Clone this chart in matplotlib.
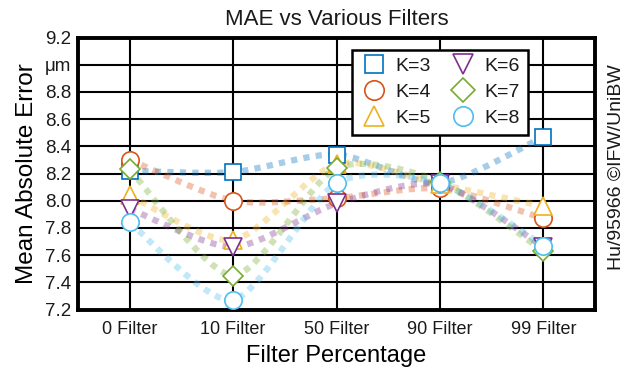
import numpy as np
import matplotlib
matplotlib.use("Agg")
import matplotlib.pyplot as plt
from matplotlib.path import Path
from matplotlib.patches import PathPatch
from matplotlib.lines import Line2D

plt.rcParams['font.family'] = ['Liberation Sans', 'DejaVu Sans']
plt.rcParams['text.color'] = '#1a1a1a'
plt.rcParams['xtick.color'] = '#1a1a1a'
plt.rcParams['ytick.color'] = '#1a1a1a'

# data
categories = ['0 Filter', '10 Filter', '50 Filter', '90 Filter', '99 Filter']
series_names = ['K=3', 'K=4', 'K=5', 'K=6', 'K=7', 'K=8']
k3 = [8.22, 8.21, 8.34, 8.13, 8.47]
k4 = [8.30, 8.00, 8.02, 8.09, 7.87]
k5 = [8.04, 7.71, 8.27, 8.12, 7.96]
k6 = [7.94, 7.66, 7.98, 8.12, 7.66]
k7 = [8.23, 7.45, 8.24, 8.14, 7.63]
k8 = [7.84, 7.27, 8.13, 8.13, 7.67]
yticks = [7.2, 7.4, 7.6, 7.8, 8.0, 8.2, 8.4, 8.6, 8.8, 9.0, 9.2]
ytick_labels = ['7.2', '7.4', '7.6', '7.8', '8.0', '8.2', '8.4', '8.6', '8.8', 'μm', '9.2']

series = [k3, k4, k5, k6, k7, k8]
colors = ['#0072BD', '#D95319', '#EDB120', '#7E2F8E', '#77AC30', '#4DBEEE']
markers = ['s', 'o', '^', 'v', 'D', 'o']
msizes = [11.5, 12.5, 13.5, 13.5, 10.5, 12.5]


def smooth_path(xs, ys, k=8.0):
    # catmull-rom style curve through the points, as bezier segments
    pts = np.column_stack([xs, ys]).astype(float)
    n = len(pts)
    verts = [pts[0]]
    codes = [Path.MOVETO]
    for i in range(n - 1):
        p0 = pts[max(i - 1, 0)]
        p1 = pts[i]
        p2 = pts[i + 1]
        p3 = pts[min(i + 2, n - 1)]
        c1 = p1 + (p2 - p0) / k
        c2 = p2 - (p3 - p1) / k
        verts += [c1, c2, p2]
        codes += [Path.CURVE4] * 3
    return Path(verts, codes)


fig = plt.figure(figsize=(6.25, 3.72), dpi=100)
ax = fig.add_axes([0.125, 0.168, 0.827, 0.731])

x = np.arange(len(categories))

# pale dotted smoothed lines first
for ys, c in zip(series, colors):
    patch = PathPatch(smooth_path(x, ys), fill=False, edgecolor=c, alpha=0.35,
                      lw=4.5, linestyle=(0, (1, 1)), capstyle='butt', zorder=3)
    ax.add_patch(patch)

# open markers on top
for ys, c, m, ms in zip(series, colors, markers, msizes):
    ax.plot(x, ys, linestyle='none', marker=m, ms=ms, mfc='white', mec=c, mew=1.2, zorder=4)

ax.set_xlim(-0.5, 4.5)
ax.set_ylim(7.2, 9.2)
ax.set_xticks(x)
ax.set_xticklabels(categories, fontsize=13)
ax.set_yticks(yticks)
ax.set_yticklabels(ytick_labels, fontsize=13.5)
ax.tick_params(axis='x', length=0, pad=8)
ax.tick_params(axis='y', length=0, pad=5)
ax.grid(True, color='black', lw=1.5, zorder=1)
ax.set_axisbelow(True)
for s in ax.spines.values():
    s.set_linewidth(2.8)

ax.set_title('MAE vs Various Filters', fontsize=16, pad=9)
ax.set_xlabel('Filter Percentage', fontsize=17, labelpad=5)
ax.set_ylabel('Mean Absolute Error', fontsize=17.5, labelpad=5)

handles = [Line2D([], [], linestyle='none', marker=m, ms=ms + 1.5, mfc='white', mec=c, mew=1.2)
           for c, m, ms in zip(colors, markers, msizes)]
leg = ax.legend(handles, series_names, ncol=2, loc='upper left', bbox_to_anchor=(0.53, 0.955),
                fontsize=14, frameon=True, fancybox=False, framealpha=1, edgecolor='black',
                borderaxespad=0, handletextpad=0.35, columnspacing=0.9, labelspacing=0.42,
                borderpad=0.4, handlelength=1.5)
leg.get_frame().set_linewidth(1.8)
leg.set_zorder(5)

fig.text(0.986, 0.55, 'Hu/95966 ©IFW/UniBW', rotation=90, fontsize=14,
         ha='center', va='center')

fig.savefig('out.png', dpi=100)
